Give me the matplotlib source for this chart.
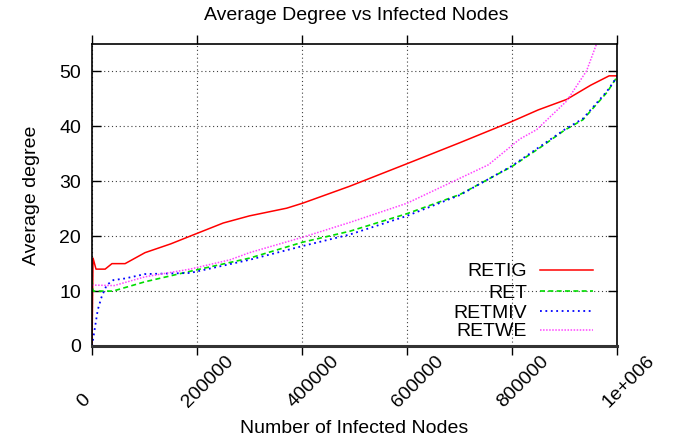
import matplotlib
matplotlib.use("Agg")
import matplotlib.pyplot as plt
from matplotlib.lines import Line2D
from matplotlib.transforms import ScaledTranslation

plt.rcParams['font.family'] = ['Liberation Sans', 'DejaVu Sans']

# ---- data ----
retig_x = [0, 2000, 7600, 25000, 38000, 63000, 101000, 150000, 186700, 250000, 300000,
           370900, 401000, 491000, 600000, 700000, 800000, 850000, 904000, 950000, 985000, 1000000]
retig_y = [0, 16, 14, 14, 15, 15, 17, 18.6, 20.0, 22.4, 23.7,
           25.1, 26.0, 29.1, 33.2, 37.0, 40.9, 43.0, 44.9, 47.5, 49.2, 49.2]

ret_x = [0, 2000, 40000, 101000, 186700, 300000, 401000, 491000, 600000, 701000, 800000,
         853000, 900000, 935000, 981000, 1000000]
ret_y = [12, 10, 10, 11.7, 13.6, 16.0, 18.9, 20.9, 24.1, 27.6, 32.7,
         36.1, 39.3, 41.2, 46.2, 49]

retmiv_x = [0, 11000, 18500, 28000, 40600, 63000, 101000, 186700, 300000, 401000, 491000,
            600000, 701000, 800000, 853000, 900000, 935000, 981000, 1000000]
retmiv_y = [0, 6.6, 9.0, 11.1, 12.0, 12.3, 13.1, 13.3, 15.7, 18.2, 20.3,
            23.7, 27.5, 32.8, 36.3, 39.4, 41.4, 46.4, 49]

retwe_x = [0, 42000, 101000, 186700, 263000, 300000, 401000, 491000, 600000, 755000,
           815000, 847000, 904000, 942000, 961000]
retwe_y = [11.1, 11, 12.6, 14.0, 15.7, 17.0, 19.8, 22.5, 26.0, 33.0,
           37.7, 39.4, 44.6, 50.1, 55]

series_names = ["RETIG", "RET", "RETMIV", "RETWE"]
x_ticks = [0, 200000, 400000, 600000, 800000, 1000000]
x_tick_labels = ["0", "200000", "400000", "600000", "800000", "1e+006"]
y_ticks = [0, 10, 20, 30, 40, 50]

styles = [
    dict(color='#ff0000', lw=1.1, ls='-'),
    dict(color='#00dd00', lw=1.2, ls=(0, (3, 2))),
    dict(color='#0000ff', lw=1.3, ls=(0, (1, 2))),
    dict(color='#ff44ff', lw=1.1, ls=(0, (1, 1))),
]

# ---- figure ----
fig = plt.figure(figsize=(6.73, 4.41), dpi=100)
ax = fig.add_axes([92/673, 1-346/441, (617-92)/673, (346-44)/441])

for xs, ys, st, name in zip([retig_x, ret_x, retmiv_x, retwe_x],
                            [retig_y, ret_y, retmiv_y, retwe_y], styles, series_names):
    ax.plot(xs, ys, label=name, **st)

ax.set_xlim(0, 1000000)
ax.set_ylim(0, 55)
ax.set_xticks(x_ticks)
ax.set_xticklabels([])
ax.set_yticks(y_ticks)
ax.set_yticklabels([str(v) for v in y_ticks], fontsize=14)

ax.tick_params(axis='x', direction='out', length=6.5, width=1, top=True, bottom=True)
ax.tick_params(axis='y', direction='in', length=6.5, width=1, left=True, right=True, pad=8)

# rotated x tick labels
trans = ax.get_xaxis_transform() + ScaledTranslation(-9/100, -62/100, fig.dpi_scale_trans)
for xv, lab in zip(x_ticks, x_tick_labels):
    ax.text(xv, 0, lab, transform=trans, rotation=45, rotation_mode='anchor',
            ha='left', va='baseline', fontsize=14)

ax.grid(True, color='0.25', ls=(0, (1, 2.5)), lw=0.8)
for s in ['top', 'left', 'right']:
    ax.spines[s].set_linewidth(1.2)
ax.spines['bottom'].set_linewidth(2.2)
ax.spines['bottom'].set_color('0.2')

ax.set_xlabel("Number of Infected Nodes", fontsize=14, labelpad=43)
ax.set_ylabel("Average degree", fontsize=14, labelpad=14)
fig.text(356/673, 1 - 15/441, "Average Degree vs Infected Nodes",
         ha='center', va='center', fontsize=14)

# legend: right-aligned labels with line samples to their right
row_y = [(346 - y) / 302 for y in (270, 291, 311, 330)]
text_right = (527 - 92) / 525
line_x0, line_x1 = (540 - 92) / 525, (593 - 92) / 525
for ry, st, name in zip(row_y, styles, series_names):
    ax.text(text_right, ry, name, transform=ax.transAxes, ha='right',
            va='center_baseline', fontsize=14)
    ax.add_line(Line2D([line_x0, line_x1], [ry, ry], transform=ax.transAxes,
                       clip_on=False, **st))

fig.savefig("out.png", dpi=100)
